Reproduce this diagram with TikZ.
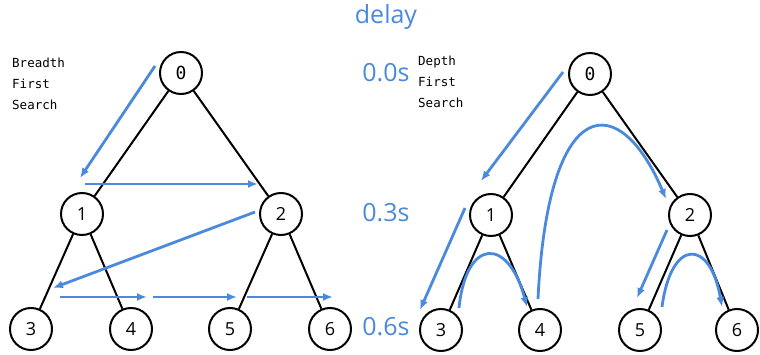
\documentclass[tikz,border=0pt]{standalone}
\usepackage{fontspec}
\setmainfont{Open Sans}
\setmonofont{DejaVu Sans Mono}
\usetikzlibrary{arrows.meta}
\definecolor{delayblue}{RGB}{74,137,220}

\begin{document}
\begin{tikzpicture}[
  x=1pt, y=-1pt,
  vertex/.style={draw, circle, line width=2pt, minimum size=42pt, inner sep=0pt, font=\fontsize{18}{18}\selectfont},
  root/.style={vertex, font=\ttfamily\fontsize{18}{18}\selectfont},
  edge/.style={line width=2pt},
  visit/.style={-{Latex[length=10pt, width=8pt]}, line width=2.8pt, draw=delayblue},
  caption/.style={anchor=north west, inner sep=0pt, align=left, font=\ttfamily\fontsize{12.5}{21}\selectfont},
  timing/.style={text=delayblue, font=\fontsize{25}{25}\selectfont}
]
\useasboundingbox (0,0) rectangle (760,355);
\node[timing] (delay) at (386,17) {delay};
\node[timing] (t0) at (386,73) {0.0s};
\node[timing] (t3) at (386,213) {0.3s};
\node[timing] (t6) at (386,327) {0.6s};
\node[caption] (bfs) at (12,58) {Breadth\\First\\Search};
\node[caption] (dfs) at (418,56) {Depth\\First\\Search};
\node[root] (l0) at (181,73) {0};
\node[vertex] (l1) at (82,214) {1};
\node[vertex] (l2) at (281,214) {2};
\node[vertex] (l3) at (31,329) {3};
\node[vertex] (l4) at (131,329) {4};
\node[vertex] (l5) at (230,329) {5};
\node[vertex] (l6) at (330,329) {6};
\node[root] (r0) at (590,74) {0};
\node[vertex] (r1) at (491,215) {1};
\node[vertex] (r2) at (690,215) {2};
\node[vertex] (r3) at (441,330) {3};
\node[vertex] (r4) at (540,330) {4};
\node[vertex] (r5) at (640,330) {5};
\node[vertex] (r6) at (737,330) {6};
\foreach \t in {l,r} {
  \draw[edge] (\t0) -- (\t1);
  \draw[edge] (\t0) -- (\t2);
  \draw[edge] (\t1) -- (\t3);
  \draw[edge] (\t1) -- (\t4);
  \draw[edge] (\t2) -- (\t5);
  \draw[edge] (\t2) -- (\t6);
}
\coordinate (a0) at (155,66);
\coordinate (a1) at (80,178);
\coordinate (a2) at (85,184);
\coordinate (a3) at (258,184);
\coordinate (a4) at (255,212);
\coordinate (a5) at (53,288);
\coordinate (a6) at (60,297);
\coordinate (a7) at (147,297);
\coordinate (a8) at (153,297);
\coordinate (a9) at (237,297);
\coordinate (a10) at (247,297);
\coordinate (a11) at (333,297);
\draw[visit] (a0) -- (a1);
\draw[visit] (a2) -- (a3);
\draw[visit] (a4) -- (a5);
\draw[visit] (a6) -- (a7);
\draw[visit] (a8) -- (a9);
\draw[visit] (a10) -- (a11);
\coordinate (b0) at (563,72);
\coordinate (b1) at (481,181);
\coordinate (b2) at (465,208);
\coordinate (b3) at (420,310);
\coordinate (b4) at (459,308);
\coordinate (b5) at (527,307);
\coordinate (b6) at (538,299);
\coordinate (b7) at (666,199);
\coordinate (b8) at (667,230);
\coordinate (b9) at (637,298);
\coordinate (b10) at (662,307);
\coordinate (b11) at (722,307);
\draw[visit] (b0) -- (b1);
\draw[visit] (b2) -- (b3);
\draw[visit] (b4) .. controls (466,238) and (508,236) .. (b5);
\draw[visit] (b6) .. controls (548,90) and (620,90) .. (b7);
\draw[visit] (b8) -- (b9);
\draw[visit] (b10) .. controls (671,238) and (710,238) .. (b11);
\end{tikzpicture}
\end{document}
